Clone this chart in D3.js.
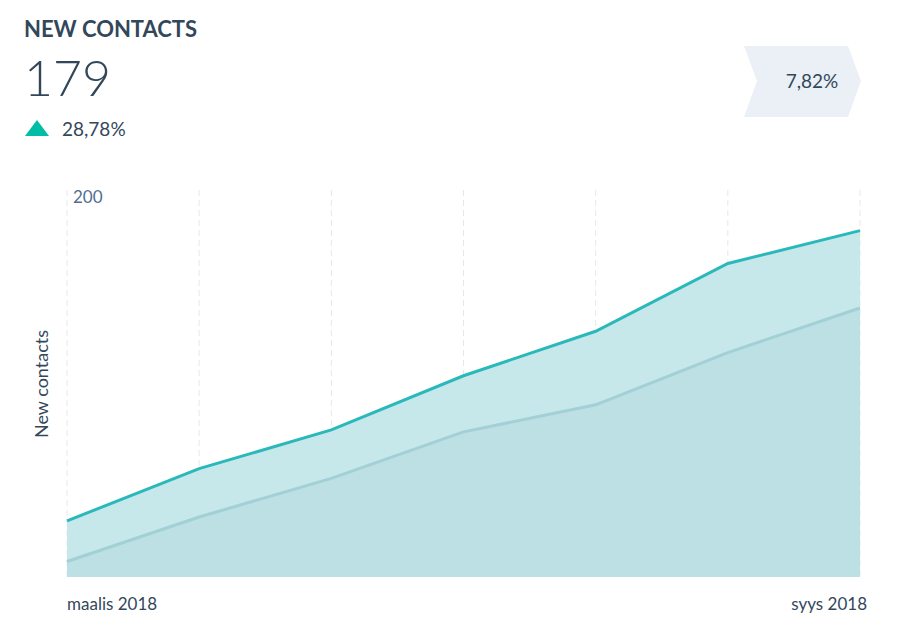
<!DOCTYPE html>
<html><head><meta charset="utf-8">
<script src="https://cdn.jsdelivr.net/npm/d3@7"></script>
<style>body{margin:0;background:#fff;font-family:Lato,"Open Sans",sans-serif;}</style>
</head><body><svg id="c" width="914" height="644"></svg>
<script>
const months = ["maalis 2018","huhti 2018","touko 2018","kesä 2018","heinä 2018","elo 2018","syys 2018"];
const currentValues = [29, 56, 76, 104, 127, 162, 179];
const previousValues = [8, 31, 51, 75, 89, 116, 139];
const yTicks = [200];
const svg = d3.select("#c");
const x = d3.scalePoint().domain(months).range([67, 860]);
const y = d3.scaleLinear().domain([0, 200]).range([577, 190]);
const ink = "#33475b";
svg.append("text").attr("x",24).attr("y",37).attr("font-size",22).attr("font-weight",700).attr("fill",ink).text("NEW CONTACTS");
svg.append("text").attr("x",24).attr("y",96).attr("font-size",50).attr("font-weight",300).attr("fill",ink).text("179");
svg.append("path").attr("d","M25,136 L37,120 L49,136 Z").attr("fill","#00bda5");
svg.append("text").attr("x",62).attr("y",136).attr("font-size",19).attr("fill",ink).text("28,78%");
svg.append("path").attr("d","M744,46 L848,46 L861,81 L848,117 L744,117 L757,81 Z").attr("fill","#eaf0f6");
svg.append("text").attr("x",812).attr("y",88).attr("text-anchor","middle").attr("font-size",19).attr("fill",ink).text("7,82%");
// gridlines
svg.selectAll(".g").data(months).enter().append("line")
 .attr("x1",d=>x(d)).attr("x2",d=>x(d)).attr("y1",190).attr("y2",577)
 .attr("stroke","#e5e8eb").attr("stroke-dasharray","6,4");
svg.selectAll(".yt").data(yTicks).enter().append("text").attr("x",73).attr("y",d=>y(d)+13)
 .attr("font-size",17).attr("fill","#516f90").text(d=>d);
const area = d3.area().x((d,i)=>x(months[i])).y0(y(0)).y1(d=>y(d));
const line = d3.line().x((d,i)=>x(months[i])).y(d=>y(d));
svg.append("path").attr("d",area(currentValues)).attr("fill","#c6e8ea");
svg.append("path").attr("d",area(previousValues)).attr("fill","#bce0e4");
svg.append("path").attr("d",line(previousValues)).attr("fill","none").attr("stroke","#a3cfd6").attr("stroke-width",3);
svg.append("path").attr("d",line(currentValues)).attr("fill","none").attr("stroke","#2bb8bb").attr("stroke-width",3);
svg.append("text").attr("x",67).attr("y",610).attr("font-size",17).attr("fill",ink).text(months[0]);
svg.append("text").attr("x",867).attr("y",610).attr("text-anchor","end").attr("font-size",17).attr("fill",ink).text(months[6]);
svg.append("text").attr("transform","translate(48,384) rotate(-90)").attr("text-anchor","middle").attr("font-size",18).attr("fill",ink).text("New contacts");
</script></body></html>
